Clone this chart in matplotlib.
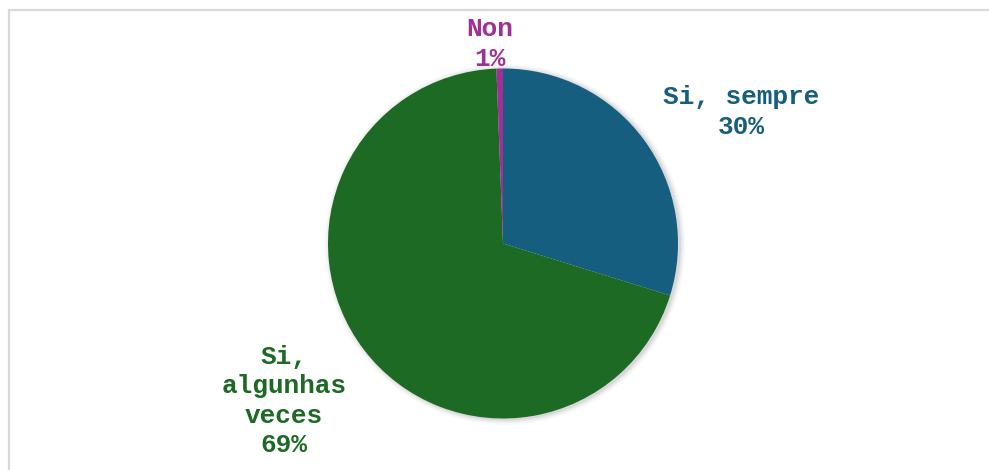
import matplotlib.pyplot as plt
from matplotlib.patches import Rectangle

# Dados da enquisa
label_lines = ["Si, sempre", "Si,\nalgunhas\nveces", "Non"]
values = [29.8, 69.6, 0.6]
shown_pct = ["30%", "69%", "1%"]
colors = ["#165E80", "#1C6A24", "#A03096"]

W, H = 989, 470
fig = plt.figure(figsize=(W / 100, H / 100), dpi=100)
ax = fig.add_axes([0, 0, 1, 1])

# borde gris do gráfico
fig.patches.append(Rectangle((8.5 / W, -0.1), 1.2, (H - 10.5) / H + 0.1,
                             transform=fig.transFigure, fill=False,
                             edgecolor="#d9d9d9", linewidth=1.6))

cx, cy, r = 503, H - 243.5, 175
# sombra suave
for i, a in enumerate([0.06, 0.045, 0.03, 0.02]):
    ax.add_patch(plt.Circle((cx + 2, cy - 1), r + 1 + i * 1.5, color="black",
                            alpha=a, lw=0, zorder=0))

ax.pie(values, colors=colors, startangle=90, counterclock=False,
       center=(cx, cy), radius=r, frame=True,
       wedgeprops=dict(linewidth=0, edgecolor="none"))
ax.set_xlim(0, W)
ax.set_ylim(0, H)
ax.set_aspect("equal")
ax.axis("off")

label_pos = [(741, H - 112), (284, H - 401), (490, H - 44)]
for txt, pct, col, (x, y) in zip(label_lines, shown_pct, colors, label_pos):
    ax.text(x, y, txt + "\n" + pct, color=col, ha="center", va="center",
            family="Liberation Mono", fontweight="bold", fontsize=18.8,
            linespacing=1.27)

fig.savefig("out.png", dpi=100, facecolor="white")
